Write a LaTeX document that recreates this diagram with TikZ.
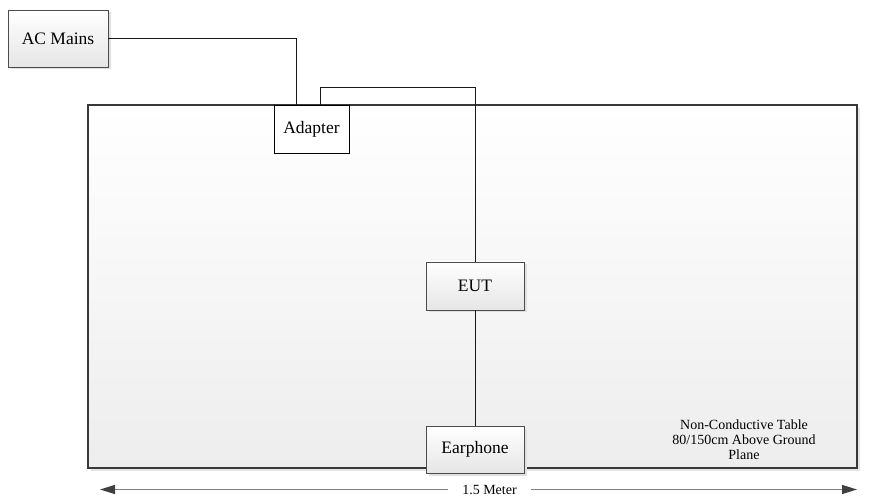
\documentclass[tikz,border=0pt]{standalone}
\usepackage{fontspec}
\setmainfont{Liberation Serif}
\usetikzlibrary{arrows.meta,shadows}
\begin{document}
\begin{tikzpicture}[x=1pt,y=-1pt,
  boxfont/.style={font=\fontsize{17.5}{20}\selectfont},
  gradbox/.style={draw=black!70, line width=0.9pt, top color=white, bottom color=black!10,
    drop shadow={shadow xshift=2.5pt, shadow yshift=-2.5pt, fill=black!12, opacity=1},
    boxfont, inner sep=0pt},
  plainbox/.style={draw=black, line width=0.9pt, fill=white, boxfont, inner sep=0pt},
  tablebox/.style={draw=black!78, line width=2.8pt, top color=white, bottom color=black!7,
    drop shadow={shadow xshift=3pt, shadow yshift=-3pt, fill=black!10, opacity=1}, inner sep=0pt},
  wire/.style={draw=black!90, line width=0.9pt},
  dim/.style={draw=black!50, line width=1.3pt, {Triangle[length=15pt,width=9pt,fill=black!75,color=black!75]}-{Triangle[length=15pt,width=9pt,fill=black!75,color=black!75]}},
  note/.style={font=\fontsize{14}{15}\selectfont, align=center},
  dimlabel/.style={font=\fontsize{14}{16}\selectfont, fill=white, inner xsep=14pt, inner ysep=1pt}
]
\useasboundingbox (0,0) rectangle (871,497);
\node[tablebox, minimum width=769pt, minimum height=363pt] (table) at (472.5,286.5) {};
\node[gradbox, minimum width=100pt, minimum height=57pt] (ac) at (58,38.5) {AC Mains};
\node[gradbox, minimum width=98pt, minimum height=48pt] (eut) at (475,286) {EUT};
\node[gradbox, minimum width=98pt, minimum height=47pt] (ear) at (475,449.5) {Earphone};
\node[plainbox, minimum width=75pt, minimum height=48pt] (adp) at (311.5,129) {Adapter};
\draw[wire] (ac.east) -| ([xshift=-15.5pt]adp.north);
\draw[wire] ([xshift=8.5pt]adp.north) -- ++(0,-17) -| (eut.north);
\draw[wire] (eut.south) -- (ear.north);
\node[note] (lbl) at (744,440) {Non-Conductive Table\\80/150cm Above Ground\\Plane};
\coordinate (al) at (100,489.5);
\coordinate (ar) at (857,489.5);
\draw[dim] (al) -- (ar);
\node[dimlabel] (dl) at (489.5,489.5) {1.5 Meter};
\end{tikzpicture}
\end{document}
